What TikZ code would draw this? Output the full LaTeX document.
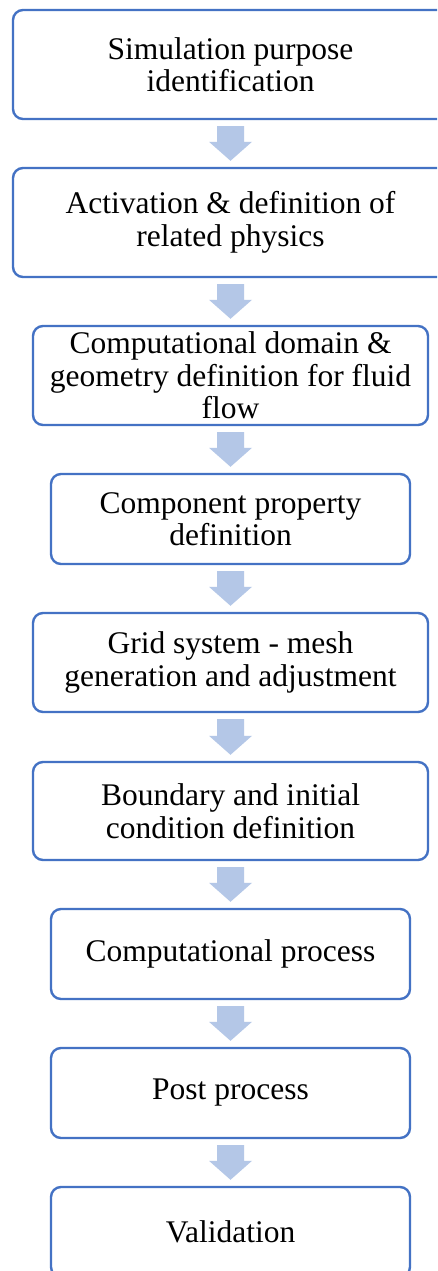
\documentclass[tikz,border=0pt]{standalone}
\usepackage{fontspec}
\setmainfont{Liberation Serif}
\usetikzlibrary{calc}
\definecolor{boxblue}{HTML}{4472C4}
\definecolor{arrowblue}{HTML}{B4C7E7}
\tikzset{
  stepbox/.style={draw=boxblue, line width=2.4pt, rounded corners=10pt, fill=white,
    inner sep=0pt, align=center, font=\fontsize{31.5}{32.5}\selectfont},
  arrowfill/.style={fill=arrowblue, draw=none}
}
\newcommand{\blockarrow}[2]{%
  \fill[arrowfill] ($(#1.south)+(-13.5,6)$) -- ($(#1.south)+(13.5,6)$)
    -- ($(#2.north)+(13.5,-25)$) -- ($(#2.north)+(21.5,-25)$)
    -- ($(#2.north)+(0,-6)$) -- ($(#2.north)+(-21.5,-25)$)
    -- ($(#2.north)+(-13.5,-25)$) -- cycle;}
\begin{document}
\begin{tikzpicture}[x=1pt,y=-1pt]
\useasboundingbox (0,0) rectangle (437,1271);
\clip (0,0) rectangle (437,1271);
\fill[white] (0,0) rectangle (437,1271);
\node[stepbox, minimum width=435pt, minimum height=109pt] (b1) at (230.5,64.5) {Simulation purpose\\identification};
\node[stepbox, minimum width=435pt, minimum height=109pt] (b2) at (230.5,222.5) {Activation \& definition of\\related physics};
\node[stepbox, minimum width=395pt, minimum height=99pt] (b3) at (230.5,375.5) {Computational domain \&\\geometry definition for fluid\\flow};
\node[stepbox, minimum width=359pt, minimum height=90pt] (b4) at (230.5,519) {Component property\\definition};
\node[stepbox, minimum width=395pt, minimum height=99pt] (b5) at (230.5,662.5) {Grid system - mesh\\generation and adjustment};
\node[stepbox, minimum width=395pt, minimum height=98pt] (b6) at (230.5,811) {Boundary and initial\\condition definition};
\node[stepbox, minimum width=359pt, minimum height=90pt] (b7) at (230.5,954) {Computational process};
\node[stepbox, minimum width=359pt, minimum height=90pt] (b8) at (230.5,1093) {Post process};
\node[stepbox, minimum width=359pt, minimum height=90pt] (b9) at (230.5,1232) {Validation};
\blockarrow{b1}{b2}
\blockarrow{b2}{b3}
\blockarrow{b3}{b4}
\blockarrow{b4}{b5}
\blockarrow{b5}{b6}
\blockarrow{b6}{b7}
\blockarrow{b7}{b8}
\blockarrow{b8}{b9}
\end{tikzpicture}
\end{document}
